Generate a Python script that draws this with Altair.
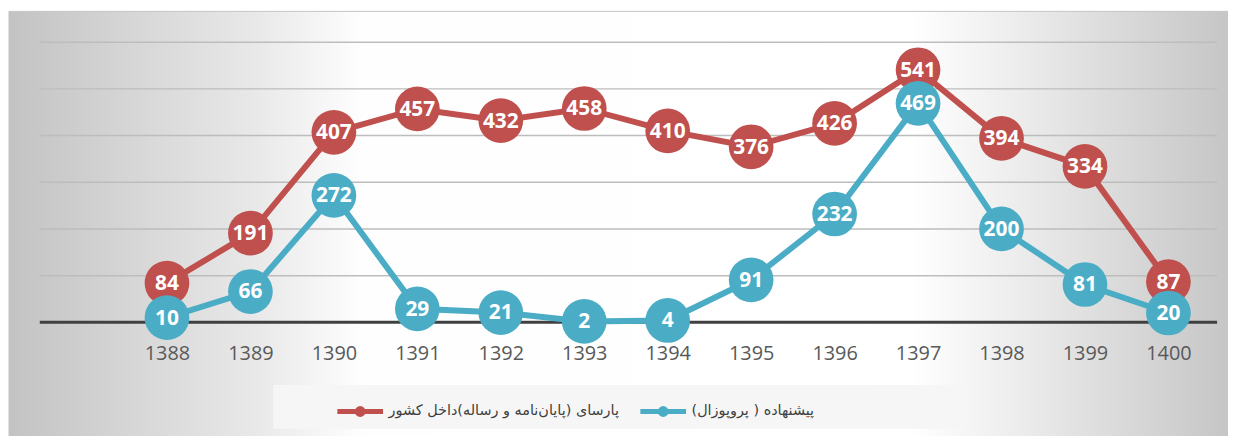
import altair as alt
import pandas as pd

years = [1388, 1389, 1390, 1391, 1392, 1393, 1394, 1395, 1396, 1397, 1398, 1399, 1400]
parsa = [84, 191, 407, 457, 432, 458, 410, 376, 426, 541, 394, 334, 87]
proposal = [10, 66, 272, 29, 21, 2, 4, 91, 232, 469, 200, 81, 20]
grid_values = [100, 200, 300, 400, 500, 600]

name_red = "پارسای (پایان\u200cنامه و رساله)داخل کشور"
name_blue = "پیشنهاده ( پروپوزال)"
RED = "#C0504D"
BLUE = "#4BACC6"

W, H = 1185, 282

rows = []
for y, v in zip(years, parsa):
    rows.append({"year": y, "value": v, "series": name_red})
for y, v in zip(years, proposal):
    rows.append({"year": y, "value": v, "series": name_blue})
df = pd.DataFrame(rows)

xscale = alt.Scale(domain=[1386.476, 1400.583], nice=False, zero=False)
yscale = alt.Scale(domain=[0, 600], nice=False)
cscale = alt.Scale(domain=[name_red, name_blue], range=[RED, BLUE])

X = alt.X("year:Q", scale=xscale, title=None,
          axis=alt.Axis(values=years, format="d", grid=False, domain=False, ticks=False,
                        labelPadding=21, labelFont="Open Sans", labelFontSize=20,
                        labelColor="#595959", zindex=1))
Y = alt.Y("value:Q", scale=yscale, title=None, axis=None)

grad = alt.LinearGradient(
    gradient="linear", x1=0, y1=0, x2=1, y2=0,
    stops=[
        alt.GradientStop(offset=0.0, color="#c3c3c3"),
        alt.GradientStop(offset=0.1, color="#d6d6d6"),
        alt.GradientStop(offset=0.2, color="#e8e8e8"),
        alt.GradientStop(offset=0.29, color="#fefefe"),
        alt.GradientStop(offset=0.74, color="#ffffff"),
        alt.GradientStop(offset=0.83, color="#ececec"),
        alt.GradientStop(offset=1.0, color="#c6c6c6"),
    ],
)

one = pd.DataFrame({"k": [0]})
bg = alt.Chart(one).mark_rect(fill=grad, stroke="#c4c4c4", strokeWidth=1).encode(
    x=alt.value(-31), x2=alt.value(1196), y=alt.value(-31), y2=alt.value(401)
)
legend_box = alt.Chart(one).mark_rect(fill="#f6f6f6").encode(
    x=alt.value(235), x2=alt.value(930), y=alt.value(345), y2=alt.value(389)
)

grid = alt.Chart(pd.DataFrame({"g": grid_values})).mark_rule(
    color="#bdbdbd", strokeWidth=1.5
).encode(y=alt.Y("g:Q", scale=yscale, axis=None), x=alt.value(0), x2=alt.value(W))

base = alt.Chart(pd.DataFrame({"g": [0]})).mark_rule(
    color="#404040", strokeWidth=3
).encode(y=alt.Y("g:Q", scale=yscale, axis=None), x=alt.value(0), x2=alt.value(W))

legend = alt.Legend(
    title=None, orient="none", legendX=297, legendY=346, direction="horizontal",
    symbolType="M-1,0L1,0M0.13,0A0.13,0.13,0,1,1,-0.13,0A0.13,0.13,0,1,1,0.13,0",
    symbolSize=2116, symbolStrokeWidth=5, labelFont="DejaVu Sans", labelFontSize=14.5,
    labelColor="#404040", labelLimit=500, labelOffset=3, columnPadding=10, padding=0,
)


def series_layers(name):
    d = df[df["series"] == name]
    line = alt.Chart(d).mark_line(strokeWidth=6).encode(
        x=X, y=Y, color=alt.Color("series:N", scale=cscale, legend=legend)
    )
    pts = alt.Chart(d).mark_point(filled=True, opacity=1, size=2025, shape="circle").encode(
        x=X, y=Y, fill=alt.Fill("series:N", scale=cscale, legend=None)
    )
    return line, pts


lr, pr = series_layers(name_red)
lb, pb = series_layers(name_blue)

labels = alt.Chart(df).mark_text(
    color="white", font="Open Sans", fontWeight="bold", fontSize=21,
    align="center", baseline="middle", dy=1
).encode(x=X, y=Y, text=alt.Text("value:Q"))

chart = alt.layer(bg, legend_box, grid, base, lr, pr, lb, pb, labels).resolve_scale(
    fill="independent"
).properties(
    width=W, height=H,
    padding={"left": 32, "top": 33, "right": 11, "bottom": 113},
    autosize=alt.AutoSizeParams(type="none"),
    background="white",
).configure_view(stroke=None)

chart.save("out.html", embed_options={"renderer": "svg", "actions": False})
